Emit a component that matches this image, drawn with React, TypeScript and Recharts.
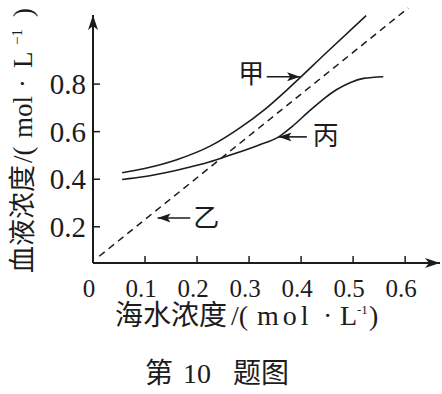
import { LineChart, Line, XAxis, YAxis, ReferenceLine, ReferenceDot } from "recharts";

// 甲 curve
const jiaX = [0.056, 0.097, 0.161, 0.225, 0.283, 0.331, 0.376, 0.45, 0.525];
const jiaY = [0.427, 0.444, 0.482, 0.539, 0.617, 0.695, 0.782, 0.935, 1.088];
// 丙 curve
const bingX = [0.056, 0.097, 0.161, 0.225, 0.254, 0.318, 0.357, 0.382, 0.414, 0.443, 0.467, 0.494, 0.52, 0.558];
const bingY = [0.399, 0.41, 0.438, 0.473, 0.494, 0.543, 0.578, 0.62, 0.683, 0.737, 0.775, 0.806, 0.824, 0.831];
// 乙 dashed line
const yiX = [0.012, 0.606];
const yiY = [0.076, 1.12];

const xTicks = [0, 0.1, 0.2, 0.3, 0.4, 0.5, 0.6];
const yTicks = [0.2, 0.4, 0.6, 0.8];

const toPoints = (xs: number[], ys: number[]) => xs.map((x, i) => ({ x, y: ys[i] }));

const ink = "#1c1c1c";
const serif = "Liberation Serif, Noto Sans CJK SC, serif";

function Titles() {
  // y title is drawn in a rotated frame: x offsets measure distance up from the bottom
  const yx = 32;
  const yy = 273;
  return (
    <g fill={ink} fontFamily={serif}>
      <text x={yx} y={yy} fontSize={27} transform={`rotate(-90 ${yx} ${yy})`}>
        <tspan x={yx}>血液浓度</tspan>
        <tspan x={yx + 110}>/(</tspan>
        <tspan x={yx + 135}>mol</tspan>
        <tspan x={yx + 185}>·</tspan>
        <tspan x={yx + 205}>L</tspan>
        <tspan x={yx + 228} dy={-10} fontSize={15}>−1</tspan>
        <tspan x={yx + 256} dy={10}>)</tspan>
      </text>
      <text y={325} fontSize={28}>
        <tspan x={115}>海水浓度</tspan>
        <tspan x={231}>/(</tspan>
        <tspan x={257} letterSpacing={4}>mol</tspan>
        <tspan x={323}>·</tspan>
        <tspan x={340}>L</tspan>
        <tspan x={357} dy={-11} fontSize={13}>-1</tspan>
        <tspan x={369} dy={11}>)</tspan>
      </text>
      <text y={383} fontSize={28}>
        <tspan x={145}>第</tspan>
        <tspan x={183}>10</tspan>
        <tspan x={233}>题图</tspan>
      </text>
    </g>
  );
}

export default function App() {
  return (
    <div style={{ position: "absolute", left: 0, top: 0, background: "#fff", fontFamily: serif }}>
      <LineChart width={442} height={394} margin={{ top: 8, right: 2, left: 0, bottom: 0 }}>
        <defs>
          <marker id="axisArrow" viewBox="0 0 15 10" refX="15" refY="5" markerWidth="15" markerHeight="10" markerUnits="userSpaceOnUse" orient="auto">
            <path d="M0,0 L15,5 L0,10 L4,5 Z" fill={ink} />
          </marker>
          <marker id="noteArrow" viewBox="0 0 13 9" refX="13" refY="4.5" markerWidth="13" markerHeight="9" markerUnits="userSpaceOnUse" orient="auto">
            <path d="M0,0 L13,4.5 L0,9 L3,4.5 Z" fill={ink} />
          </marker>
        </defs>
        <XAxis
          type="number"
          dataKey="x"
          domain={[0, 0.667]}
          ticks={xTicks}
          tickFormatter={(v: number) => (v === 0 ? "0" : v.toFixed(1))}
          height={131}
          tickSize={-7}
          tickMargin={23}
          tickLine={{ stroke: ink, strokeWidth: 1.5 }}
          axisLine={{ stroke: ink, strokeWidth: 2, markerEnd: "url(#axisArrow)" }}
          tick={{ fill: ink, fontSize: 25, fontFamily: serif, dx: -4 }}
          label={<Titles />}
        />
        <YAxis
          type="number"
          dataKey="y"
          domain={[0.0476, 1.12]}
          ticks={yTicks}
          tickFormatter={(v: number) => v.toFixed(1)}
          width={93}
          tickSize={-7}
          tickMargin={14}
          tickLine={{ stroke: ink, strokeWidth: 1.5 }}
          axisLine={false}
          tick={{ fill: ink, fontSize: 29, fontFamily: serif }}
        />
        <ReferenceLine
          segment={[{ x: 0, y: 0.0476 }, { x: 0, y: 1.0905 }]}
          stroke={ink}
          strokeWidth={2}
          markerEnd="url(#axisArrow)"
        />
        <Line data={toPoints(yiX, yiY)} dataKey="y" type="linear" stroke={ink} strokeWidth={1.5} strokeDasharray="7 5" dot={false} isAnimationActive={false} />
        <Line data={toPoints(jiaX, jiaY)} dataKey="y" type="monotone" stroke={ink} strokeWidth={1.6} dot={false} isAnimationActive={false} />
        <Line data={toPoints(bingX, bingY)} dataKey="y" type="monotone" stroke={ink} strokeWidth={1.6} dot={false} isAnimationActive={false} />
        <ReferenceLine segment={[{ x: 0.334, y: 0.8307 }, { x: 0.398, y: 0.8307 }]} stroke={ink} strokeWidth={1.6} markerEnd="url(#noteArrow)" />
        <ReferenceLine segment={[{ x: 0.4111, y: 0.578 }, { x: 0.3566, y: 0.578 }]} stroke={ink} strokeWidth={1.6} markerEnd="url(#noteArrow)" />
        <ReferenceLine segment={[{ x: 0.1869, y: 0.237 }, { x: 0.1241, y: 0.237 }]} stroke={ink} strokeWidth={1.6} markerEnd="url(#noteArrow)" />
        <ReferenceDot x={0.3041} y={0.8416} r={0} stroke="none" fill="none" label={{ value: "甲", position: "center", fontSize: 26, fill: ink, fontFamily: serif }} />
        <ReferenceDot x={0.4473} y={0.583} r={0} stroke="none" fill="none" label={{ value: "丙", position: "center", fontSize: 26, fill: ink, fontFamily: serif }} />
        <ReferenceDot x={0.2177} y={0.236} r={0} stroke="none" fill="none" label={{ value: "乙", position: "center", fontSize: 26, fill: ink, fontFamily: serif }} />
      </LineChart>
    </div>
  );
}
